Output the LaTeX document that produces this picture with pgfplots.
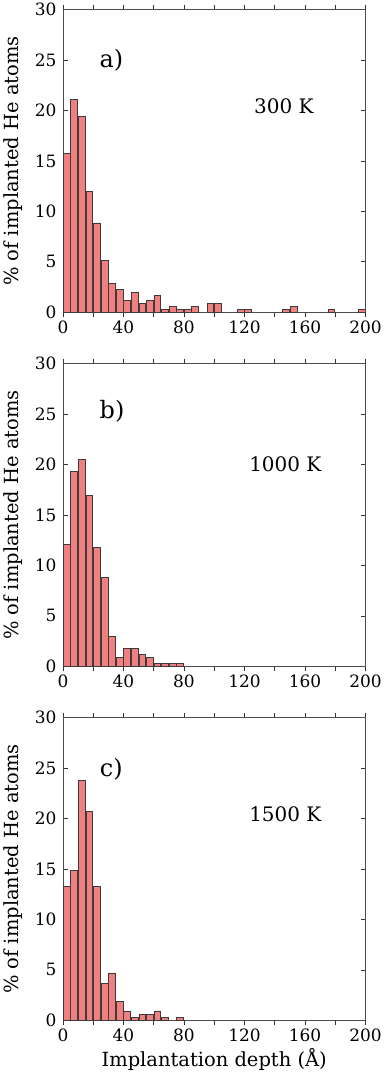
\documentclass[border=0pt]{standalone}
\usepackage{pgfplots}
\pgfplotsset{compat=1.18}
\usepackage{fontspec}
\setmainfont{DejaVu Serif}
\definecolor{barfill}{RGB}{240,128,128}
\definecolor{edge}{RGB}{60,60,60}

\pgfplotsset{
  panel/.style={
    scale only axis,
    width=303pt, height=303pt,
    xmin=0, xmax=200, ymin=0, ymax=30,
    xtick={0,40,...,200},
    minor xtick={20,60,...,180},
    ytick={0,5,...,30},
    tick align=inside,
    major tick length=5pt, minor tick length=5pt,
    axis line style={draw=black!70, line width=0.8pt},
    tick style={black!80, line width=0.8pt},
    ylabel={\% of implanted He atoms},
    ylabel style={at={(axis description cs:-0.123,0.5)}, anchor=south},
    yticklabel style={xshift=-3pt},
    tick label style={font=\fontsize{17}{19}\selectfont},
    label style={font=\fontsize{19.5}{22}\selectfont},
    /pgf/number format/assume math mode=true,
    ybar, bar width=4.5, bar shift=0pt,
  },
  bars/.style={fill=barfill, draw=edge, line width=0.8pt},
}
\tikzset{
  tag/.style={font=\fontsize{24}{26}\selectfont},
  temp/.style={font=\fontsize{20}{22}\selectfont},
}

\begin{document}
\begin{tikzpicture}
\begin{axis}[panel, at={(0,0)}]
\addplot[bars] coordinates {
(2.5,15.71) (7.5,21.14) (12.5,19.43) (17.5,12.00) (22.5,8.86)
(27.5,5.14) (32.5,2.86) (37.5,2.29) (42.5,1.14) (47.5,2.00)
(52.5,0.86) (57.5,1.14) (62.5,1.71) (67.5,0.29) (72.5,0.57)
(77.5,0.29) (82.5,0.29) (87.5,0.57) (97.5,0.86) (102.5,0.86)
(117.5,0.29) (122.5,0.29) (147.5,0.29) (152.5,0.57) (177.5,0.29)
(197.5,0.29)
};
\node[tag] at (axis cs:32,25) {a)};
\node[temp] at (axis cs:146,20.4) {300 K};
\end{axis}

\begin{axis}[panel, at={(0,-354.5pt)}]
\addplot[bars] coordinates {
(2.5,12.1) (7.5,19.3) (12.5,20.5) (17.5,16.9) (22.5,11.8)
(27.5,8.8) (32.5,3.0) (37.5,0.9) (42.5,1.8) (47.5,1.8)
(52.5,1.2) (57.5,0.9) (62.5,0.3) (67.5,0.3) (72.5,0.3)
(77.5,0.3)
};
\node[tag] at (axis cs:32.5,25.3) {b)};
\node[temp] at (axis cs:147,20) {1000 K};
\end{axis}

\begin{axis}[panel, at={(0,-709pt)}, xlabel={Implantation depth (Å)}]
\addplot[bars] coordinates {
(2.5,13.3) (7.5,14.9) (12.5,23.8) (17.5,20.7) (22.5,13.3)
(27.5,3.7) (32.5,4.7) (37.5,1.85) (42.5,0.93) (47.5,0.3)
(52.5,0.56) (57.5,0.56) (62.5,0.93) (67.5,0.3) (77.5,0.3)
};
\node[tag] at (axis cs:32,24.9) {c)};
\node[temp] at (axis cs:147,20.4) {1500 K};
\end{axis}
\end{tikzpicture}
\end{document}
